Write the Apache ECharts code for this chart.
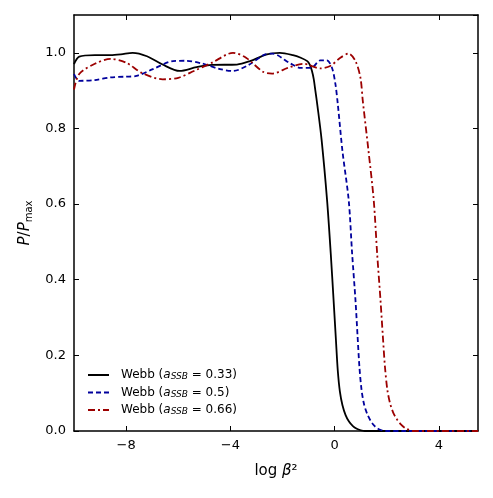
<!DOCTYPE html>
<html>
<head>
<meta charset="utf-8">
<script src="https://cdn.jsdelivr.net/npm/echarts@6/dist/echarts.min.js"></script>
<style>
  html, body { margin: 0; padding: 0; background: #fff; }
  #chart { width: 493px; height: 498px; }
</style>
</head>
<body>
<div id="chart"></div>
<script>
// x = log beta^2, y = P / Pmax
var webb033 = [
  [-10, 0.97], [-9.8, 0.99], [-9.2, 0.994], [-8.6, 0.994], [-8.2, 0.996], [-7.75, 1.0],
  [-7.2, 0.991], [-6.6, 0.969], [-5.95, 0.952], [-5.3, 0.962], [-4.7, 0.968],
  [-3.75, 0.969], [-3.25, 0.978], [-2.6, 0.996], [-2.1, 1.0], [-1.6, 0.994],
  [-1.3, 0.987], [-1.05, 0.978], [-0.95, 0.968], [-0.87, 0.952], [-0.8, 0.93],
  [-0.74, 0.9], [-0.66, 0.86], [-0.5, 0.77], [-0.29, 0.61], [-0.15, 0.47],
  [-0.04, 0.345], [0.05, 0.24], [0.12, 0.16], [0.2, 0.105], [0.3, 0.068],
  [0.42, 0.042], [0.55, 0.025], [0.7, 0.013], [0.85, 0.006], [1.0, 0.002],
  [1.15, 0], [2, 0], [5.5, 0]
];
var webb05 = [
  [-10, 0.944], [-9.8, 0.926], [-9.2, 0.928], [-8.6, 0.935], [-8.0, 0.937], [-7.6, 0.939],
  [-7.0, 0.956], [-6.2, 0.978], [-5.7, 0.979], [-5.1, 0.972], [-4.4, 0.957],
  [-3.9, 0.952], [-3.3, 0.968], [-2.7, 0.995], [-2.4, 0.998], [-1.7, 0.972],
  [-1.3, 0.96], [-0.9, 0.96], [-0.55, 0.98], [-0.3, 0.98], [-0.1, 0.96],
  [0.03, 0.917], [0.12, 0.865], [0.3, 0.74], [0.54, 0.61], [0.67, 0.47],
  [0.8, 0.345], [0.88, 0.25], [0.95, 0.17], [1.03, 0.11], [1.13, 0.07],
  [1.25, 0.045], [1.38, 0.027], [1.52, 0.014], [1.66, 0.006], [1.8, 0.002],
  [1.95, 0], [2.6, 0], [5.5, 0]
];
var webb066 = [
  [-10, 0.903], [-9.8, 0.944], [-9.2, 0.971], [-8.6, 0.984], [-8.0, 0.974], [-7.4, 0.947],
  [-6.6, 0.93], [-6.0, 0.934], [-5.4, 0.952], [-4.7, 0.974], [-3.9, 1.0],
  [-3.4, 0.987], [-2.75, 0.95], [-2.4, 0.945], [-1.8, 0.96], [-1.2, 0.971],
  [-0.55, 0.959], [-0.17, 0.965], [0.22, 0.987], [0.54, 0.998], [0.8, 0.978],
  [0.99, 0.934], [1.08, 0.873], [1.3, 0.74], [1.5, 0.61], [1.63, 0.47],
  [1.76, 0.345], [1.85, 0.25], [1.93, 0.17], [2.02, 0.11], [2.12, 0.075],
  [2.25, 0.048], [2.4, 0.03], [2.55, 0.017], [2.7, 0.008], [2.85, 0.003],
  [3.0, 0], [3.6, 0], [5.5, 0]
];
var seriesNames = ['Webb033', 'Webb05', 'Webb066'];
var seriesLabels = ['0.33', '0.5', '0.66'];
var xTicks = [-8, -4, 0, 4];

var font = 'DejaVu Sans';
var chart = echarts.init(document.getElementById('chart'));

function frameX(pos, show) {
  return {
    type: 'value', position: pos, min: -10, max: 5.5,
    axisLine: { show: true, onZero: false, lineStyle: { color: '#000', width: 1.5 } },
    axisTick: { show: true, inside: true, length: 5, customValues: xTicks, lineStyle: { color: '#000', width: 1 } },
    axisLabel: show ? {
      customValues: xTicks, color: '#000', fontFamily: font, fontSize: 13, margin: 8,
      formatter: function (v) { return v < 0 ? '\u2212' + Math.abs(v) : String(v); }
    } : { show: false },
    splitLine: { show: false }
  };
}
function frameY(pos, show) {
  return {
    type: 'value', position: pos, min: 0, max: 1.1, interval: 0.2,
    axisLine: { show: true, onZero: false, lineStyle: { color: '#000', width: 1.5 } },
    axisTick: { show: true, inside: true, length: 5, lineStyle: { color: '#000', width: 1 } },
    axisLabel: show ? {
      color: '#000', fontFamily: font, fontSize: 13, margin: 8, showMaxLabel: false,
      formatter: function (v) { return v > 1.05 ? '' : v.toFixed(1); }
    } : { show: false },
    splitLine: { show: false }
  };
}

var xBottom = frameX('bottom', true);
xBottom.name = '{n|log }{i|\u03b2}{n|\u00b2}';
xBottom.nameLocation = 'middle';
xBottom.nameGap = 33;
xBottom.nameTextStyle = {
  rich: {
    n: { fontFamily: font, fontSize: 15, color: '#000' },
    i: { fontFamily: font, fontSize: 15, fontStyle: 'italic', color: '#000' }
  }
};
var yLeft = frameY('left', true);
yLeft.name = '{i|P}{n|/}{i|P}{s|max}';
yLeft.nameLocation = 'middle';
yLeft.nameGap = 40;
yLeft.nameTextStyle = {
  rich: {
    n: { fontFamily: font, fontSize: 15, color: '#000' },
    i: { fontFamily: font, fontSize: 15, fontStyle: 'italic', color: '#000' },
    s: { fontFamily: font, fontSize: 10, color: '#000', verticalAlign: 'bottom', padding: [8, 0, 0, 0] }
  }
};

function line(name, data, color, type) {
  return {
    name: name, type: 'line', data: data, showSymbol: false, symbol: 'none',
    smooth: 0.3, xAxisIndex: 0, yAxisIndex: 0, clip: true,
    lineStyle: { color: color, width: 1.8, type: type },
    itemStyle: { color: color }
  };
}

chart.setOption({
  animation: false,
  grid: { left: 74, right: 15, top: 15, bottom: 67, containLabel: false },
  legend: {
    orient: 'vertical', left: 82, top: 364, itemWidth: 21, itemHeight: 10, itemGap: 5,
    data: seriesNames,
    itemStyle: { opacity: 0 },
    textStyle: {
      fontFamily: font, fontSize: 12, color: '#000', padding: [0, 0, 0, 7],
      rich: {
        n: { fontFamily: font, fontSize: 12, color: '#000' },
        i: { fontFamily: font, fontSize: 12, fontStyle: 'italic', color: '#000' },
        s: { fontFamily: font, fontSize: 9, fontStyle: 'italic', color: '#000', verticalAlign: 'bottom', padding: [4, 0, 0, 0] }
      }
    },
    formatter: function (name) {
      var k = seriesNames.indexOf(name);
      return '{n|Webb (}{i|a}{s|SSB}{n| = ' + seriesLabels[k] + ')}';
    }
  },
  xAxis: [xBottom, frameX('top', false)],
  yAxis: [yLeft, frameY('right', false)],
  series: [
    line(seriesNames[0], webb033, '#000000', 'solid'),
    line(seriesNames[1], webb05, '#00009c', [5, 3]),
    line(seriesNames[2], webb066, '#9c0000', [7, 3, 2, 3])
  ]
});
</script>
</body>
</html>
